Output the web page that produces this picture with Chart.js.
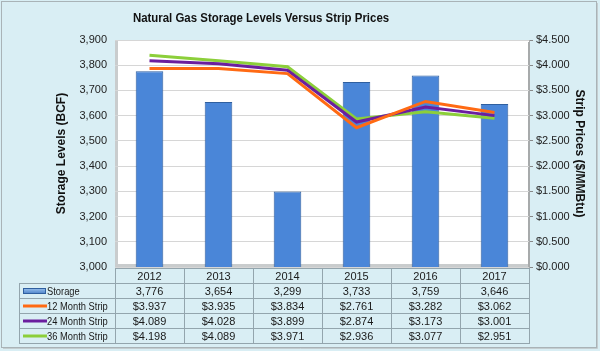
<!DOCTYPE html>
<html>
<head>
<meta charset="utf-8">
<script src="https://cdn.jsdelivr.net/npm/chart.js@4.4.1/dist/chart.umd.min.js"></script>
<style>
  html, body { margin: 0; padding: 0; background: #d9eef4; }
  #wrap { width: 600px; height: 351px; position: relative; }
</style>
</head>
<body>
<div id="wrap"><canvas id="c" width="600" height="351"></canvas></div>
<script>
const categories = ['2012', '2013', '2014', '2015', '2016', '2017'];
const storage = [3776, 3654, 3299, 3733, 3759, 3646];
const strip12 = [3.937, 3.935, 3.834, 2.761, 3.282, 3.062];
const strip24 = [4.089, 4.028, 3.899, 2.874, 3.173, 3.001];
const strip36 = [4.198, 4.089, 3.971, 2.936, 3.077, 2.951];
const seriesNames = ['Storage', '12 Month Strip', '24 Month Strip', '36 Month Strip'];
const titleText = 'Natural Gas Storage Levels Versus Strip Prices';
const leftTitle = 'Storage Levels (BCF)';
const rightTitle = 'Strip Prices ($/MMBtu)';

const FONT = '"Liberation Sans", Arial, sans-serif';
const colors = { bar: '#4a86d8', barEdge: '#2f5f9f', s12: '#ff6a13', s24: '#6b1e9e', s36: '#8ccf3a' };

const fmtStorage = v => v.toLocaleString('en-US');
const fmtPrice = v => '$' + Number(v).toFixed(3);

const ctx = document.getElementById('c').getContext('2d');

function barGradient(context) {
  const chart = context.chart;
  const el = context.element;
  if (!chart.chartArea || !el || el.width === undefined) return colors.bar;
  const x0 = el.x - el.width / 2, x1 = el.x + el.width / 2;
  const g = chart.ctx.createLinearGradient(x0, 0, x1, 0);
  g.addColorStop(0, '#3f78c8');
  g.addColorStop(0.45, '#5b97e4');
  g.addColorStop(1, '#3c72be');
  return g;
}

function narrowText(c, text, x, y, sx) {
  c.save();
  c.translate(x, y);
  c.scale(sx, 1);
  c.fillText(text, 0, 0);
  c.restore();
}

const framePlugin = {
  id: 'frame',
  beforeDraw(chart) {
    const c = chart.ctx;
    const a = chart.chartArea;
    c.save();
    c.fillStyle = '#d9eef4';
    c.fillRect(0, 0, chart.width, chart.height);
    c.strokeStyle = '#a9b3b7';
    c.lineWidth = 1;
    c.strokeRect(1.5, 1.5, chart.width - 5, chart.height - 5);
    c.strokeStyle = '#c4cdd0';
    c.beginPath();
    c.moveTo(chart.width - 2.5, 3); c.lineTo(chart.width - 2.5, chart.height - 2.5); c.lineTo(3, chart.height - 2.5);
    c.stroke();
    c.fillStyle = '#ffffff';
    c.fillRect(a.left, a.top, a.width, a.height);
    c.fillStyle = '#c9cccd';
    c.fillRect(a.left, a.top, 3, a.height);
    c.fillRect(a.left, a.bottom - 3, a.width, 3);
    c.fillStyle = '#a7aaab';
    c.fillRect(a.right - 1, a.top + 2, 2, a.height);
    c.strokeStyle = '#c3c6c7';
    c.beginPath();
    c.moveTo(a.left, a.top + 0.5); c.lineTo(a.right - 2, a.top + 0.5);
    c.stroke();
    c.restore();
  },
  afterDraw(chart) {
    const c = chart.ctx;
    const a = chart.chartArea;
    const xs = chart.scales.x;
    c.save();
    c.fillStyle = '#111';
    c.font = 'bold 13px ' + FONT;
    c.textAlign = 'center';
    c.textBaseline = 'middle';
    narrowText(c, titleText, 261, 18, 0.88);

    const rowH = 15;
    const top = a.bottom + 1;
    const n = categories.length;
    const cw = a.width / n;
    const legendLeft = 19;
    c.strokeStyle = '#93a5ad';
    c.lineWidth = 1;
    c.font = '11px ' + FONT;
    for (let i = 0; i < n; i++) {
      const cx = xs.getPixelForValue(i);
      const x0 = Math.round(cx - cw / 2) + 0.5;
      const x1 = Math.round(cx + cw / 2) + 0.5;
      c.strokeRect(x0, Math.round(top) + 0.5, x1 - x0, rowH);
    }
    const rows = [storage.map(fmtStorage), strip12.map(fmtPrice), strip24.map(fmtPrice), strip36.map(fmtPrice)];
    for (let r = 0; r < rows.length; r++) {
      const y0 = Math.round(top + rowH * (r + 1)) + 0.5;
      c.strokeRect(legendLeft + 0.5, y0, Math.round(a.left) - legendLeft, rowH);
      for (let i = 0; i < n; i++) {
        const cx = xs.getPixelForValue(i);
        const x0 = Math.round(cx - cw / 2) + 0.5;
        const x1 = Math.round(cx + cw / 2) + 0.5;
        c.strokeRect(x0, y0, x1 - x0, rowH);
      }
    }
    c.fillStyle = '#1a1a1a';
    c.textAlign = 'center';
    for (let i = 0; i < n; i++) {
      const cx = xs.getPixelForValue(i);
      c.fillText(categories[i], cx, top + rowH * 0.5 + 1);
      for (let r = 0; r < rows.length; r++) {
        c.fillText(rows[r][i], cx, top + rowH * (r + 1.5) + 1);
      }
    }
    const lineColors = [null, colors.s12, colors.s24, colors.s36];
    for (let r = 0; r < seriesNames.length; r++) {
      const cy = top + rowH * (r + 1.5) + 0.5;
      if (r === 0) {
        const g = c.createLinearGradient(0, cy - 3, 0, cy + 3);
        g.addColorStop(0, '#9cc3ef');
        g.addColorStop(1, '#4a80c8');
        c.fillStyle = g;
        c.fillRect(23, cy - 2.5, 23, 5);
        c.strokeStyle = '#2f5f9f';
        c.strokeRect(23.5, cy - 2.5, 22, 5);
      } else {
        c.strokeStyle = lineColors[r];
        c.lineWidth = 3;
        c.beginPath();
        c.moveTo(23, cy); c.lineTo(47, cy);
        c.stroke();
        c.lineWidth = 1;
      }
      c.fillStyle = '#1a1a1a';
      c.textAlign = 'left';
      narrowText(c, seriesNames[r], 47, cy + 0.5, 0.85);
    }
    c.restore();
  }
};

new Chart(ctx, {
  data: {
    labels: categories,
    datasets: [
      { type: 'line', label: seriesNames[1], data: strip12, yAxisID: 'y1', borderColor: colors.s12, backgroundColor: colors.s12, borderWidth: 3, pointRadius: 0, tension: 0, order: 1 },
      { type: 'line', label: seriesNames[2], data: strip24, yAxisID: 'y1', borderColor: colors.s24, backgroundColor: colors.s24, borderWidth: 3, pointRadius: 0, tension: 0, order: 1 },
      { type: 'line', label: seriesNames[3], data: strip36, yAxisID: 'y1', borderColor: colors.s36, backgroundColor: colors.s36, borderWidth: 3, pointRadius: 0, tension: 0, order: 1 },
      { type: 'bar', label: seriesNames[0], data: storage, yAxisID: 'y', backgroundColor: barGradient, borderColor: colors.barEdge, borderWidth: 1, barPercentage: 0.4, categoryPercentage: 1.0, order: 2 }
    ]
  },
  options: {
    responsive: false,
    animation: false,
    devicePixelRatio: 1,
    layout: { padding: { left: 50, right: 9, top: 40, bottom: 84 } },
    plugins: { legend: { display: false }, tooltip: { enabled: false }, title: { display: false } },
    scales: {
      x: { type: 'category', display: false, offset: true, grid: { display: false } },
      y: {
        type: 'linear', position: 'left', min: 3000, max: 3900,
        ticks: { stepSize: 100, callback: v => fmtStorage(v), color: '#222', font: { family: FONT, size: 11 }, padding: 8 },
        grid: { color: '#d6d6d6', drawTicks: false },
        border: { display: false },
        title: { display: true, text: leftTitle, color: '#111', font: { family: FONT, size: 12, weight: 'bold' }, padding: { top: 4, bottom: 4 } },
        afterFit(s) { s.width = 65; }
      },
      y1: {
        type: 'linear', position: 'right', min: 0, max: 4.5,
        ticks: { stepSize: 0.5, callback: v => fmtPrice(v), color: '#222', font: { family: FONT, size: 11 }, padding: 3 },
        grid: { drawOnChartArea: false, color: '#888', tickLength: 4 },
        border: { display: true, color: '#a7aaab' },
        title: { display: true, text: rightTitle, color: '#111', font: { family: FONT, size: 12, weight: 'bold' }, padding: { top: 4, bottom: 4 } },
        afterFit(s) { s.width = 62; }
      }
    }
  },
  plugins: [framePlugin]
});
</script>
</body>
</html>
